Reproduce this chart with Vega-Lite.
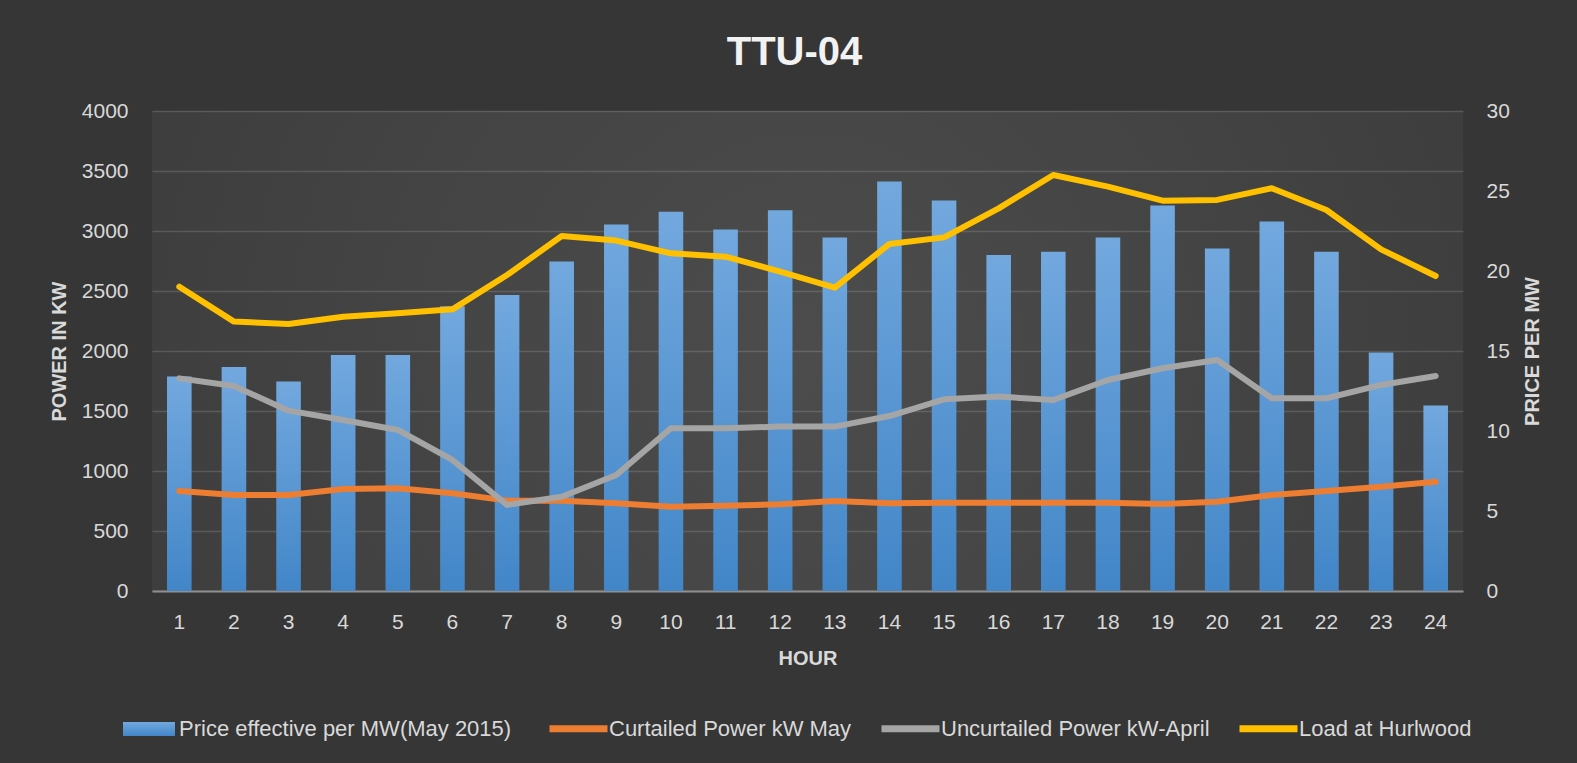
{
  "$schema": "https://vega.github.io/schema/vega-lite/v6.json",
  "width": 1311,
  "height": 480,
  "autosize": {"type": "none"},
  "padding": {"left": 152, "top": 111, "right": 114, "bottom": 172},
  "background": "#363636",
  "title": {"text": "TTU-04", "fontSize": 40, "font": "Liberation Sans", "fontWeight": "bold", "color": "#f2f2f2", "anchor": "middle", "dx": -13, "offset": -5, "baseline": "alphabetic"},
  "datasets": {
    "price": [
      {"hour": 1, "price": 13.4, "series": "Price effective per MW(May 2015)"},
      {"hour": 2, "price": 14.0, "series": "Price effective per MW(May 2015)"},
      {"hour": 3, "price": 13.1, "series": "Price effective per MW(May 2015)"},
      {"hour": 4, "price": 14.75, "series": "Price effective per MW(May 2015)"},
      {"hour": 5, "price": 14.75, "series": "Price effective per MW(May 2015)"},
      {"hour": 6, "price": 17.8, "series": "Price effective per MW(May 2015)"},
      {"hour": 7, "price": 18.5, "series": "Price effective per MW(May 2015)"},
      {"hour": 8, "price": 20.6, "series": "Price effective per MW(May 2015)"},
      {"hour": 9, "price": 22.9, "series": "Price effective per MW(May 2015)"},
      {"hour": 10, "price": 23.7, "series": "Price effective per MW(May 2015)"},
      {"hour": 11, "price": 22.6, "series": "Price effective per MW(May 2015)"},
      {"hour": 12, "price": 23.8, "series": "Price effective per MW(May 2015)"},
      {"hour": 13, "price": 22.1, "series": "Price effective per MW(May 2015)"},
      {"hour": 14, "price": 25.6, "series": "Price effective per MW(May 2015)"},
      {"hour": 15, "price": 24.4, "series": "Price effective per MW(May 2015)"},
      {"hour": 16, "price": 21.0, "series": "Price effective per MW(May 2015)"},
      {"hour": 17, "price": 21.2, "series": "Price effective per MW(May 2015)"},
      {"hour": 18, "price": 22.1, "series": "Price effective per MW(May 2015)"},
      {"hour": 19, "price": 24.1, "series": "Price effective per MW(May 2015)"},
      {"hour": 20, "price": 21.4, "series": "Price effective per MW(May 2015)"},
      {"hour": 21, "price": 23.1, "series": "Price effective per MW(May 2015)"},
      {"hour": 22, "price": 21.2, "series": "Price effective per MW(May 2015)"},
      {"hour": 23, "price": 14.9, "series": "Price effective per MW(May 2015)"},
      {"hour": 24, "price": 11.6, "series": "Price effective per MW(May 2015)"}
    ],
    "power": [
      {"hour": 1, "kw": 833, "series": "Curtailed Power kW May"},
      {"hour": 2, "kw": 800, "series": "Curtailed Power kW May"},
      {"hour": 3, "kw": 800, "series": "Curtailed Power kW May"},
      {"hour": 4, "kw": 850, "series": "Curtailed Power kW May"},
      {"hour": 5, "kw": 856, "series": "Curtailed Power kW May"},
      {"hour": 6, "kw": 814, "series": "Curtailed Power kW May"},
      {"hour": 7, "kw": 753, "series": "Curtailed Power kW May"},
      {"hour": 8, "kw": 753, "series": "Curtailed Power kW May"},
      {"hour": 9, "kw": 731, "series": "Curtailed Power kW May"},
      {"hour": 10, "kw": 703, "series": "Curtailed Power kW May"},
      {"hour": 11, "kw": 711, "series": "Curtailed Power kW May"},
      {"hour": 12, "kw": 722, "series": "Curtailed Power kW May"},
      {"hour": 13, "kw": 750, "series": "Curtailed Power kW May"},
      {"hour": 14, "kw": 731, "series": "Curtailed Power kW May"},
      {"hour": 15, "kw": 736, "series": "Curtailed Power kW May"},
      {"hour": 16, "kw": 736, "series": "Curtailed Power kW May"},
      {"hour": 17, "kw": 736, "series": "Curtailed Power kW May"},
      {"hour": 18, "kw": 736, "series": "Curtailed Power kW May"},
      {"hour": 19, "kw": 725, "series": "Curtailed Power kW May"},
      {"hour": 20, "kw": 744, "series": "Curtailed Power kW May"},
      {"hour": 21, "kw": 800, "series": "Curtailed Power kW May"},
      {"hour": 22, "kw": 833, "series": "Curtailed Power kW May"},
      {"hour": 23, "kw": 869, "series": "Curtailed Power kW May"},
      {"hour": 24, "kw": 911, "series": "Curtailed Power kW May"},
      {"hour": 1, "kw": 1772, "series": "Uncurtailed Power kW-April"},
      {"hour": 2, "kw": 1708, "series": "Uncurtailed Power kW-April"},
      {"hour": 3, "kw": 1503, "series": "Uncurtailed Power kW-April"},
      {"hour": 4, "kw": 1425, "series": "Uncurtailed Power kW-April"},
      {"hour": 5, "kw": 1342, "series": "Uncurtailed Power kW-April"},
      {"hour": 6, "kw": 1092, "series": "Uncurtailed Power kW-April"},
      {"hour": 7, "kw": 717, "series": "Uncurtailed Power kW-April"},
      {"hour": 8, "kw": 786, "series": "Uncurtailed Power kW-April"},
      {"hour": 9, "kw": 967, "series": "Uncurtailed Power kW-April"},
      {"hour": 10, "kw": 1356, "series": "Uncurtailed Power kW-April"},
      {"hour": 11, "kw": 1356, "series": "Uncurtailed Power kW-April"},
      {"hour": 12, "kw": 1370, "series": "Uncurtailed Power kW-April"},
      {"hour": 13, "kw": 1370, "series": "Uncurtailed Power kW-April"},
      {"hour": 14, "kw": 1458, "series": "Uncurtailed Power kW-April"},
      {"hour": 15, "kw": 1597, "series": "Uncurtailed Power kW-April"},
      {"hour": 16, "kw": 1620, "series": "Uncurtailed Power kW-April"},
      {"hour": 17, "kw": 1592, "series": "Uncurtailed Power kW-April"},
      {"hour": 18, "kw": 1758, "series": "Uncurtailed Power kW-April"},
      {"hour": 19, "kw": 1856, "series": "Uncurtailed Power kW-April"},
      {"hour": 20, "kw": 1925, "series": "Uncurtailed Power kW-April"},
      {"hour": 21, "kw": 1606, "series": "Uncurtailed Power kW-April"},
      {"hour": 22, "kw": 1606, "series": "Uncurtailed Power kW-April"},
      {"hour": 23, "kw": 1717, "series": "Uncurtailed Power kW-April"},
      {"hour": 24, "kw": 1792, "series": "Uncurtailed Power kW-April"},
      {"hour": 1, "kw": 2536, "series": "Load at Hurlwood"},
      {"hour": 2, "kw": 2245, "series": "Load at Hurlwood"},
      {"hour": 3, "kw": 2225, "series": "Load at Hurlwood"},
      {"hour": 4, "kw": 2286, "series": "Load at Hurlwood"},
      {"hour": 5, "kw": 2314, "series": "Load at Hurlwood"},
      {"hour": 6, "kw": 2347, "series": "Load at Hurlwood"},
      {"hour": 7, "kw": 2633, "series": "Load at Hurlwood"},
      {"hour": 8, "kw": 2958, "series": "Load at Hurlwood"},
      {"hour": 9, "kw": 2920, "series": "Load at Hurlwood"},
      {"hour": 10, "kw": 2814, "series": "Load at Hurlwood"},
      {"hour": 11, "kw": 2786, "series": "Load at Hurlwood"},
      {"hour": 12, "kw": 2661, "series": "Load at Hurlwood"},
      {"hour": 13, "kw": 2528, "series": "Load at Hurlwood"},
      {"hour": 14, "kw": 2892, "series": "Load at Hurlwood"},
      {"hour": 15, "kw": 2947, "series": "Load at Hurlwood"},
      {"hour": 16, "kw": 3189, "series": "Load at Hurlwood"},
      {"hour": 17, "kw": 3467, "series": "Load at Hurlwood"},
      {"hour": 18, "kw": 3370, "series": "Load at Hurlwood"},
      {"hour": 19, "kw": 3253, "series": "Load at Hurlwood"},
      {"hour": 20, "kw": 3259, "series": "Load at Hurlwood"},
      {"hour": 21, "kw": 3356, "series": "Load at Hurlwood"},
      {"hour": 22, "kw": 3175, "series": "Load at Hurlwood"},
      {"hour": 23, "kw": 2847, "series": "Load at Hurlwood"},
      {"hour": 24, "kw": 2625, "series": "Load at Hurlwood"}
    ]
  },
  "layer": [
    {
      "data": {"name": "price"},
      "mark": {"type": "bar", "color": {"gradient": "linear", "x1": 0, "y1": 0, "x2": 0, "y2": 1, "stops": [{"offset": 0, "color": "#72a8de"}, {"offset": 1, "color": "#4286c8"}]}},
      "encoding": {
        "x": {
          "field": "hour", "type": "ordinal",
          "scale": {"paddingInner": 0.55, "paddingOuter": 0.275},
          "axis": {"title": "HOUR", "labelAngle": 0, "labelFontSize": 21, "labelColor": "#d9d9d9", "labelPadding": 20, "ticks": false, "tickSize": 0, "domain": true, "domainColor": "#8f8f8f", "domainWidth": 2, "grid": false, "titleFontSize": 20, "titleFontWeight": "bold", "titleColor": "#d9d9d9", "titlePadding": 16}
        },
        "y": {
          "field": "price", "type": "quantitative",
          "scale": {"domain": [0, 30]},
          "axis": {"orient": "right", "values": [0, 5, 10, 15, 20, 25, 30], "format": "d", "grid": false, "domain": false, "ticks": false, "tickSize": 0, "labelFontSize": 21, "labelColor": "#d9d9d9", "labelPadding": 23, "title": "PRICE PER MW", "titleFontSize": 20, "titleFontWeight": "bold", "titleColor": "#d9d9d9", "titleAngle": 270, "titleBaseline": "top", "titlePadding": 13}
        },
        "opacity": {
          "field": "series", "type": "nominal",
          "scale": {"domain": ["Price effective per MW(May 2015)"], "range": [1]},
          "legend": {"orient": "none", "legendX": -29, "legendY": 592, "title": null, "symbolType": "M-1,-0.27H1V0.27H-1Z", "symbolSize": 2704, "symbolStrokeWidth": 0, "symbolFillColor": "#5b9bd5", "labelFontSize": 22, "labelColor": "#d9d9d9", "labelOffset": 4, "labelLimit": 500}
        }
      }
    },
    {
      "data": {"name": "power"},
      "mark": {"type": "line", "strokeWidth": 6, "strokeCap": "round", "strokeJoin": "round"},
      "encoding": {
        "x": {"field": "hour", "type": "ordinal"},
        "y": {
          "field": "kw", "type": "quantitative",
          "scale": {"domain": [0, 4000]},
          "axis": {"orient": "left", "values": [0, 500, 1000, 1500, 2000, 2500, 3000, 3500, 4000], "format": "d", "grid": true, "gridColor": "#ffffff", "gridOpacity": 0.14, "gridWidth": 1.3, "domain": false, "ticks": false, "tickSize": 0, "labelFontSize": 21, "labelColor": "#d9d9d9", "labelPadding": 24, "title": "POWER IN KW", "titleFontSize": 20, "titleFontWeight": "bold", "titleColor": "#d9d9d9", "titlePadding": 12}
        },
        "stroke": {
          "field": "series", "type": "nominal",
          "scale": {"domain": ["Curtailed Power kW May", "Uncurtailed Power kW-April", "Load at Hurlwood"], "range": ["#ED7D31", "#A5A5A5", "#FFC000"]},
          "legend": {"orient": "none", "legendX": 394, "legendY": 585, "direction": "horizontal", "title": null, "symbolType": "stroke", "symbolSize": 3364, "symbolStrokeWidth": 7, "labelFontSize": 22, "labelColor": "#d9d9d9", "labelOffset": -2, "columnPadding": 15, "labelLimit": 500}
        }
      }
    }
  ],
  "resolve": {"scale": {"y": "independent"}},
  "config": {
    "font": "Liberation Sans",
    "view": {"stroke": null, "fill": {"gradient": "radial", "x1": 0.5, "y1": 0.5, "x2": 0.5, "y2": 0.5, "r1": 0, "r2": 0.75, "stops": [{"offset": 0, "color": "#4c4c4c"}, {"offset": 1, "color": "#383838"}]}}
  }
}
